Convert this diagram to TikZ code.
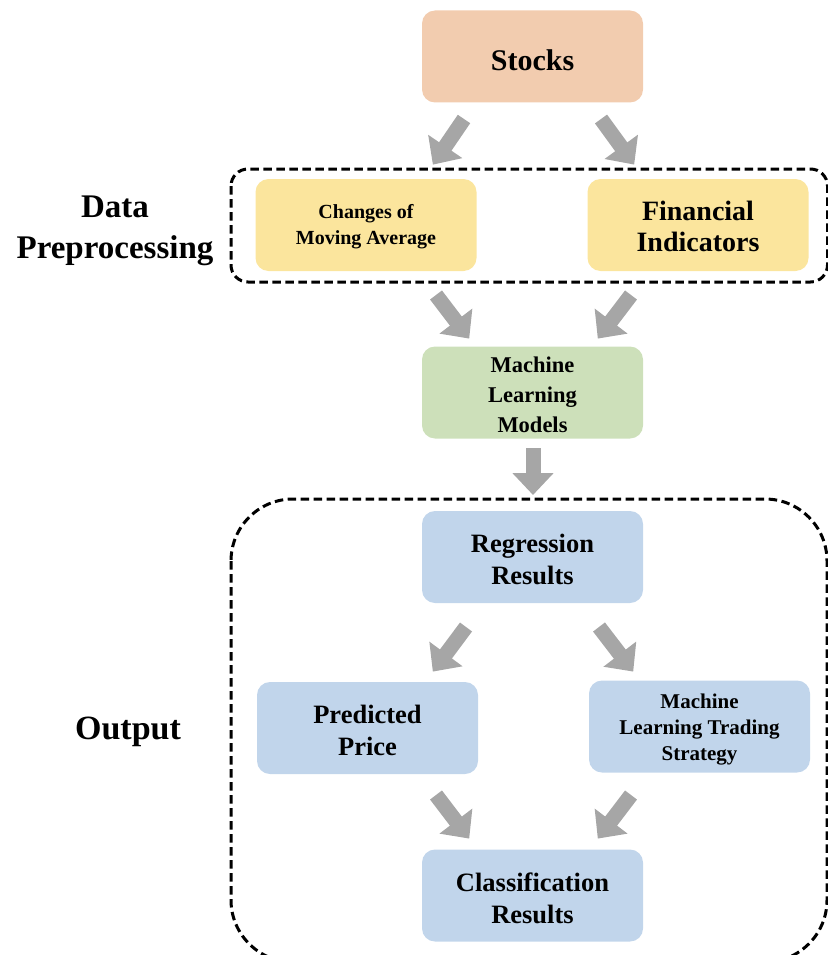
\documentclass[tikz,border=0pt]{standalone}
\usepackage{fontspec}
\setmainfont{Liberation Serif}
\usetikzlibrary{arrows.meta}
\definecolor{cpeach}{HTML}{F2CCAF}
\definecolor{cyellow}{HTML}{FBE59D}
\definecolor{cgreen}{HTML}{CDE0BA}
\definecolor{cblue}{HTML}{C1D5EB}
\definecolor{cgray}{HTML}{A6A6A6}
\tikzset{
  box/.style={rounded corners=13pt, minimum width=221pt, minimum height=92pt, inner sep=0pt},
  txt/.style={align=center, inner sep=0pt},
  fs/.style 2 args={font=\bfseries\fontsize{#1}{#2}\selectfont},
  grp/.style={draw=black, line width=3pt, dash pattern=on 8.5pt off 4.5pt},
  blk/.style={draw=cgray, line width=15pt, -{Triangle[length=22pt,width=40pt]}, shorten >=-2pt},
}
\begin{document}
\begin{tikzpicture}[x=1pt,y=-1pt]
\useasboundingbox (0,0) rectangle (827,955);
% groups
\draw[grp, rounded corners=17pt] (231,169) rectangle (827.5,282);
\draw[grp, rounded corners=62pt] (231,499) rectangle (827,962);
% boxes
\node[box, fill=cpeach] (stocks) at (532.5,56.5) {};
\node[box, fill=cyellow] (cma) at (366,225) {};
\node[box, fill=cyellow] (fin) at (698,225) {};
\node[box, fill=cgreen] (ml) at (532.5,392.5) {};
\node[box, fill=cblue] (reg) at (532.5,557) {};
\node[box, fill=cblue] (pp) at (367.5,728) {};
\node[box, fill=cblue] (mlts) at (699.5,726.5) {};
\node[box, fill=cblue] (cls) at (532.5,895.5) {};
% texts
\node[txt, fs={30}{32}] (stocks-t) at ([yshift=-3.5pt]stocks.center) {Stocks};
\node[txt, fs={20}{26}] (cma-t) at ([yshift=-1.5pt]cma.center) {Changes of\\Moving Average};
\node[txt, fs={28}{31}] (fin-t) at ([yshift=-1pt]fin.center) {Financial\\Indicators};
\node[txt, fs={22.5}{30}] (ml-t) at ([yshift=-2.5pt]ml.center) {Machine\\Learning\\Models};
\node[txt, fs={26.5}{32}] (reg-t) at ([yshift=-2pt]reg.center) {Regression\\Results};
\node[txt, fs={26.5}{32}] (pp-t) at ([yshift=-2pt]pp.center) {Predicted\\Price};
\node[txt, fs={21}{26}] (mlts-t) at ([yshift=-3pt]mlts.center) {Machine\\Learning Trading\\Strategy};
\node[txt, fs={26.5}{32}] (cls-t) at ([yshift=-3pt]cls.center) {Classification\\Results};
% labels
\node[txt, fs={33}{41}] (lbl1) at (115,231) {Data\\Preprocessing};
\node[txt, fs={34}{36}] (lbl2) at (128,732) {Output};
% arrow anchor coordinates
\coordinate (a1s) at (464,119); \coordinate (a1e) at (434,163);
\coordinate (a2s) at (601,119); \coordinate (a2e) at (633,163);
\coordinate (a3s) at (436,295); \coordinate (a3e) at (468,337);
\coordinate (a4s) at (631,295); \coordinate (a4e) at (599,337);
\coordinate (a5s) at (533,448); \coordinate (a5e) at (533,493);
\coordinate (a6s) at (466,627); \coordinate (a6e) at (434,670);
\coordinate (a7s) at (599,627); \coordinate (a7e) at (632,670);
\coordinate (a8s) at (436,795); \coordinate (a8e) at (468,837);
\coordinate (a9s) at (631,795); \coordinate (a9e) at (599,837);
\foreach \i in {1,...,9} { \draw[blk] (a\i s) -- (a\i e); }
\end{tikzpicture}
\end{document}
